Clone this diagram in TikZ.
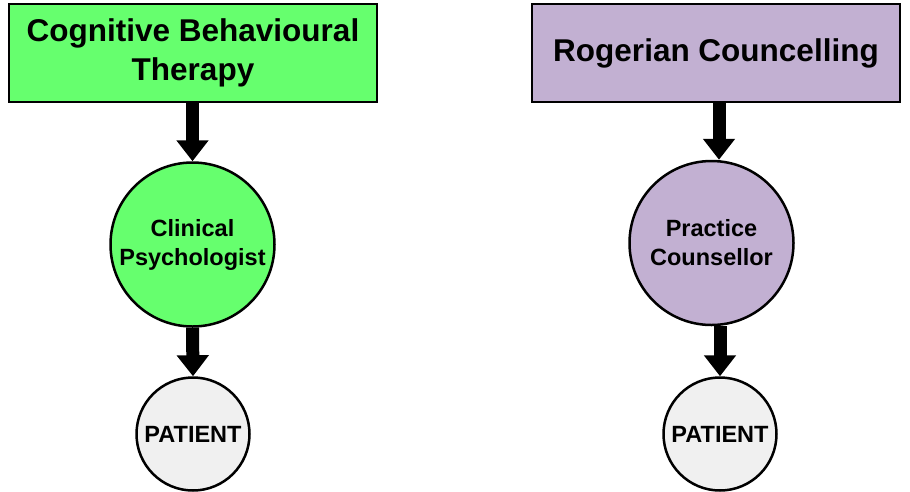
\documentclass[tikz,border=0pt]{standalone}
\usepackage{fontspec}
\setmainfont{Liberation Sans}
\usetikzlibrary{arrows.meta}
\definecolor{cbtgreen}{HTML}{66FF6E}
\definecolor{rogerlilac}{HTML}{C2B0D2}
\definecolor{patgrey}{HTML}{F0F0F0}
\begin{document}
\begin{tikzpicture}[x=1pt,y=-1pt,
  titlebox/.style={draw=black,line width=2.5pt,minimum width=368pt,minimum height=98pt,
    align=center,font=\fontsize{31.5}{39}\selectfont\bfseries,inner sep=0pt},
  rolecircle/.style={circle,draw=black,line width=2.5pt,minimum size=164pt,
    align=center,font=\fontsize{23.5}{29}\selectfont\bfseries,inner sep=0pt},
  patcircle/.style={circle,draw=black,line width=2.5pt,fill=patgrey,minimum size=113pt,
    font=\fontsize{23.5}{28}\selectfont\bfseries,inner sep=0pt},
  bigarrow/.style={line width=13pt,-{Triangle[width=31pt,length=21pt]}}
]
\useasboundingbox (0,0) rectangle (910,491);
\node[titlebox,fill=cbtgreen] (b1) at (193,53) {Cognitive Behavioural\\Therapy};
\node[titlebox,fill=rogerlilac] (b2) at (716,53) {Rogerian Councelling};
\node[rolecircle,fill=cbtgreen] (c1) at (192.5,244.5) {Clinical\\Psychologist};
\node[rolecircle,fill=rogerlilac] (c2) at (711.5,243) {Practice\\Counsellor};
\node[patcircle] (p1) at (193,434) {PATIENT};
\node[patcircle] (p2) at (720,434) {PATIENT};
\draw[bigarrow] (b1.south -| c1.north) -- (c1.north);
\draw[bigarrow] ([xshift=3pt]b2.south) -- ([xshift=3pt]b2.south |- c2.north);
\draw[bigarrow] (c1.south) -- (p1.north);
\draw[bigarrow] (c2.south -| p2.north) -- (p2.north);
\end{tikzpicture}
\end{document}
